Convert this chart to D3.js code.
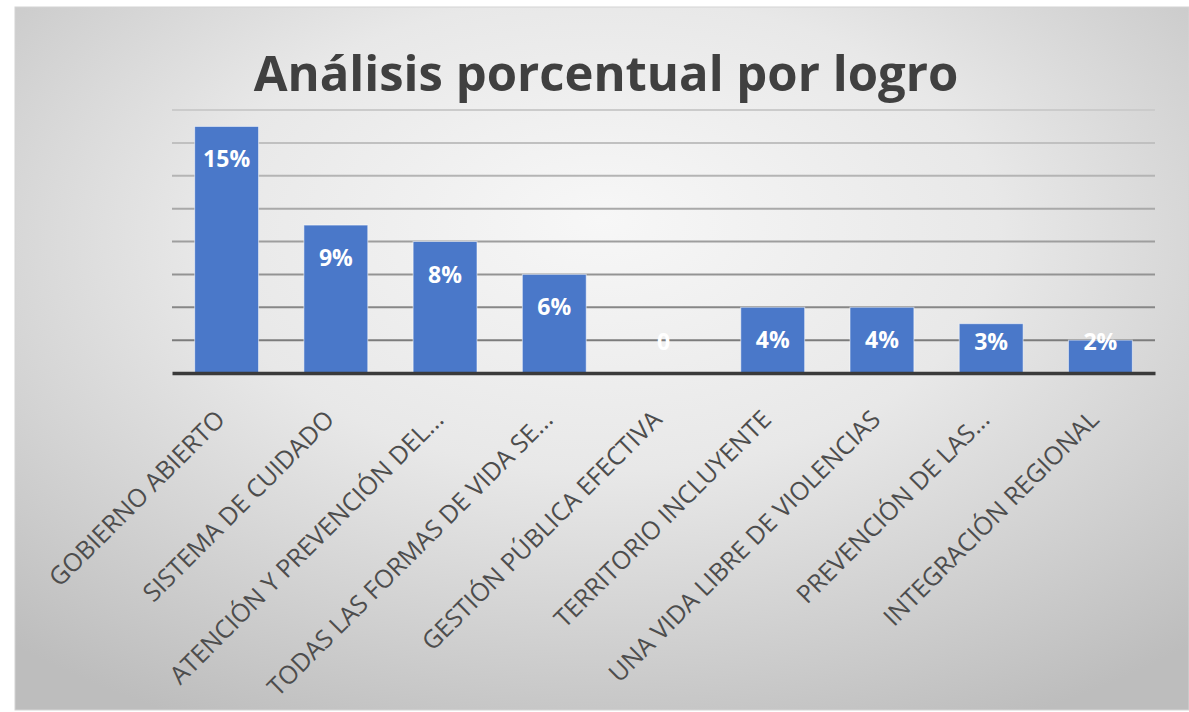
<!DOCTYPE html>
<html>
<head>
<meta charset="utf-8">
<script src="https://cdn.jsdelivr.net/npm/d3@7"></script>
<style>
  html, body { margin: 0; padding: 0; background: #ffffff; }
  svg { display: block; }
</style>
</head>
<body>
<script>
const title = "Análisis porcentual por logro";
const categories = [
  "GOBIERNO ABIERTO",
  "SISTEMA DE CUIDADO",
  "ATENCIÓN Y PREVENCIÓN DEL...",
  "TODAS LAS FORMAS DE VIDA SE...",
  "GESTIÓN PÚBLICA EFECTIVA",
  "TERRITORIO INCLUYENTE",
  "UNA VIDA LIBRE DE VIOLENCIAS",
  "PREVENCIÓN DE LAS...",
  "INTEGRACIÓN REGIONAL"
];
const values = [0.15, 0.09, 0.08, 0.06, 0, 0.04, 0.04, 0.03, 0.02];
const gridTicks = [0, 0.02, 0.04, 0.06, 0.08, 0.10, 0.12, 0.14, 0.16];

const W = 1189, H = 712;
const svg = d3.select("body").append("svg").attr("width", W).attr("height", H);

const defs = svg.append("defs");
const rg = defs.append("radialGradient").attr("id", "bg")
  .attr("cx", "50%").attr("cy", "35%").attr("r", "75%")
  .attr("fx", "50%").attr("fy", "30%");
rg.append("stop").attr("offset", "0%").attr("stop-color", "#f7f7f7");
rg.append("stop").attr("offset", "45%").attr("stop-color", "#e8e8e8");
rg.append("stop").attr("offset", "100%").attr("stop-color", "#bdbdbd");

// chart panel
svg.append("rect").attr("x", 15).attr("y", 7).attr("width", W - 15).attr("height", 703)
  .attr("fill", "url(#bg)").attr("stroke", "#d4d4d4").attr("stroke-width", 1);

const plot = { left: 172, right: 1155, top: 110, bottom: 373 };

const x = d3.scaleBand().domain(categories).range([plot.left, plot.right])
  .paddingInner(0.415).paddingOuter(0.2075);
const y = d3.scaleLinear().domain([0, 0.16]).range([plot.bottom, plot.top]);

// gridlines
const gridColor = d3.interpolateRgb("#cbcbcb", "#7c7c7c");
svg.append("g").selectAll("line").data(gridTicks.filter(t => t > 0)).join("line")
  .attr("x1", plot.left).attr("x2", plot.right)
  .attr("y1", d => y(d)).attr("y2", d => y(d))
  .attr("stroke", (d, i, arr) => gridColor(1 - i / (arr.length - 1)))
  .attr("stroke-width", 2);

// bars
svg.append("g").selectAll("rect").data(values).join("rect")
  .attr("x", (d, i) => x(categories[i]))
  .attr("width", x.bandwidth())
  .attr("y", d => y(d))
  .attr("height", d => y(0) - y(d))
  .attr("fill", "#4a78c9")
  .attr("stroke", "rgba(255,255,255,0.55)")
  .attr("stroke-width", 1)
  .attr("display", d => d > 0 ? null : "none");

// axis baseline
const xAxis = d3.axisBottom(x).tickSize(0).tickFormat("");
const ax = svg.append("g").attr("transform", `translate(0,${y(0)})`).call(xAxis);
ax.select(".domain").attr("stroke", "#3a3a3a").attr("stroke-width", 3.5);

// category labels
svg.append("g").selectAll("text").data(categories).join("text")
  .attr("transform", d => `translate(${x(d) + x.bandwidth() / 2},${y(0) + 48}) rotate(-45)`)
  .attr("text-anchor", "end")
  .attr("font-family", "'Open Sans', sans-serif")
  .attr("font-size", 25)
  .attr("fill", "#4d4d4d")
  .text(d => d);

// data labels
const fmt = d3.format(".0%");
svg.append("g").selectAll("text").data(values).join("text")
  .attr("x", (d, i) => x(categories[i]) + x.bandwidth() / 2)
  .attr("y", d => Math.min(y(d) + 33, y(0) - 31))
  .attr("dy", "0.35em")
  .attr("text-anchor", "middle")
  .attr("font-family", "'Open Sans', sans-serif")
  .attr("font-weight", "bold")
  .attr("font-size", 23)
  .attr("fill", "#ffffff")
  .text(d => d === 0 ? "0" : fmt(d));

// title
svg.append("text")
  .attr("x", 606).attr("y", 91)
  .attr("text-anchor", "middle")
  .attr("font-family", "'Open Sans', sans-serif")
  .attr("font-weight", "bold")
  .attr("font-size", 49)
  .attr("fill", "#404040")
  .text(title);
</script>
</body>
</html>
